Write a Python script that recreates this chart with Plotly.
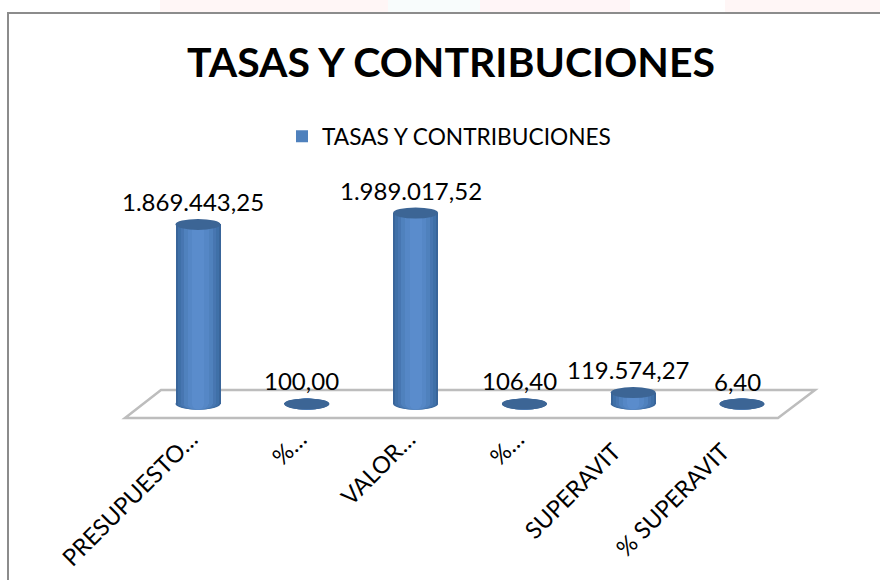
import plotly.graph_objects as go

categories = ["PRESUPUESTO…", "%…", "VALOR…", "%…", "SUPERAVIT", "% SUPERAVIT"]
values = [1869443.25, 100.00, 1989017.52, 106.40, 119574.27, 6.40]
labels = ["1.869.443,25", "100,00", "1.989.017,52", "106,40", "119.574,27", "6,40"]
series_name = "TASAS Y CONTRIBUCIONES"
title_text = "TASAS Y CONTRIBUCIONES"

W, H = 880, 580
PL, PR, PT, PB = 110, 830, 170, 420       # plot rectangle in page pixels
STEP = 108.8                              # pixels per category
ORIGIN_X, ORIGIN_Y = 198, 404             # category 0 / value 0 in page pixels
PX_PER_UNIT = 191 / 1989017.52

xr = [(PL - ORIGIN_X) / STEP, (PR - ORIGIN_X) / STEP]
yr = [(ORIGIN_Y - PB) / PX_PER_UNIT, (ORIGIN_Y - PT) / PX_PER_UNIT]
xs = list(range(len(categories)))
px = lambda X: (X - PL) / (PR - PL)
py = lambda Y: (PB - Y) / (PB - PT)

FONT = "Lato, Carlito, Calibri, sans-serif"
bands = [(45, "#39659a"), (41, "#3f70a8"), (35, "#4776b1"), (29, "#4F81BD"),
         (21, "#5587c6"), (12, "#5a8ccc")]

fig = go.Figure()
shapes = []
# faint page background showing above the chart frame
for X0, X1, c in [(160, 388, "#fff6f6"), (388, 480, "#f8fcfc"), (480, 630, "#fff5f7"), (725, 880, "#fff6f6")]:
    shapes.append(dict(type="rect", xref="paper", yref="paper", x0=px(X0), x1=px(X1), y0=py(13), y1=py(0),
                       line=dict(width=0), fillcolor=c, layer="below"))
shapes += [
    # chart frame
    dict(type="rect", xref="paper", yref="paper", x0=px(8), x1=px(886), y0=py(13), y1=py(586),
         line=dict(color="#8c8c8c", width=2), fillcolor="white", layer="below"),
    # 3D floor, anchored on the first category at value 0
    dict(type="path", xref="x", yref="y", xsizemode="pixel", ysizemode="pixel", xanchor=0, yanchor=0,
         path="M-73,-14 L580,-14 L617,14 L-37,14 Z",
         line=dict(color="#bdbdbd", width=2.5), fillcolor="white", layer="below"),
]

for w, color in bands:
    fig.add_trace(go.Bar(
        x=xs, y=values, width=w / STEP, marker=dict(color=color, line=dict(width=0)),
        name=series_name, showlegend=(color == "#4F81BD"), hoverinfo="skip"))
    for i in xs:
        # rounded cylinder foot: sits under the bars so only its lower half shows
        shapes.append(dict(type="circle", xref="x", yref="y", xsizemode="pixel", ysizemode="pixel",
                           xanchor=i, yanchor=0, x0=-w / 2, x1=w / 2, y0=-5.5, y1=5.5,
                           fillcolor=color, line=dict(width=0), layer="below"))
for i, v in zip(xs, values):
    shapes.append(dict(type="circle", xref="x", yref="y", xsizemode="pixel", ysizemode="pixel",
                       xanchor=i, yanchor=v, x0=-22.5, x1=22.5, y0=-5.5, y1=5.5,
                       fillcolor="#3c6595", line=dict(width=0)))

annotations = [dict(x=i, y=v, text=t, showarrow=False, xref="x", yref="y", xshift=-5, yshift=23,
                    xanchor="center", yanchor="middle", font=dict(family=FONT, size=24, color="#000"))
               for i, v, t in zip(xs, values, labels)]

# labels without a trailing ellipsis sit a little further along the diagonal
ticktext = [c if c.endswith("…") else c + "\u00a0\u00a0\u00a0" for c in categories]

fig.update_layout(
    width=W, height=H, autosize=False,
    paper_bgcolor="white", plot_bgcolor="rgba(0,0,0,0)",
    margin=dict(l=PL, r=W - PR, t=PT, b=H - PB, pad=0),
    barmode="overlay", bargap=0,
    title=dict(text=f"<b>{title_text}</b>", x=451 / W, y=1 - 63 / H, xanchor="center", yanchor="middle",
               xref="container", font=dict(family=FONT, size=41, color="#000")),
    legend=dict(orientation="h", x=px(282), y=py(115), xanchor="left", yanchor="top",
                bgcolor="rgba(0,0,0,0)", font=dict(family=FONT, size=22.7, color="#000")),
    xaxis=dict(range=xr, tickmode="array", tickvals=xs, ticktext=ticktext, tickangle=-45,
               showgrid=False, zeroline=False, showline=False, ticks="", fixedrange=True,
               ticklabelshift=-7,
               tickfont=dict(family=FONT, size=23.5, color="#000"), automargin=False),
    yaxis=dict(range=yr, visible=False, showgrid=False, zeroline=False, fixedrange=True),
    shapes=shapes, annotations=annotations,
)
fig.write_html("out.html", config={"displayModeBar": False},
               post_script="document.body.style.margin='0';document.body.style.overflow='hidden';")
